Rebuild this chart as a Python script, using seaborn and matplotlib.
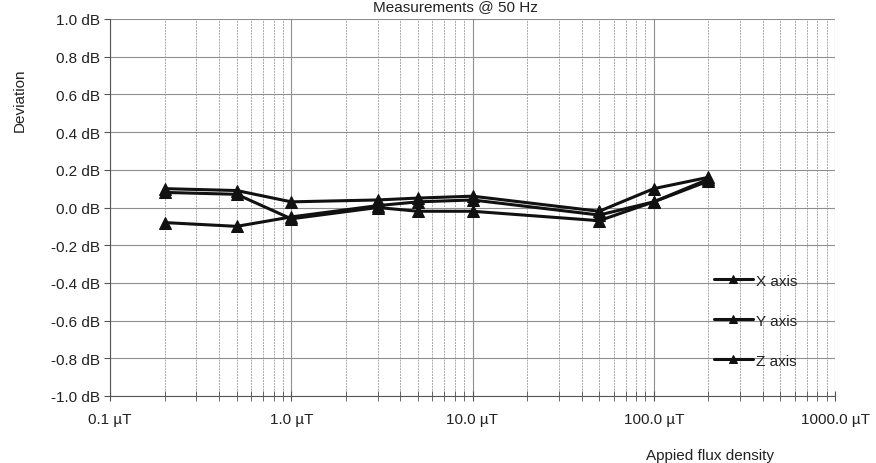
import pandas as pd
import seaborn as sns
import matplotlib.pyplot as plt
from matplotlib.ticker import FixedLocator, LogLocator, NullFormatter

# applied flux density (uT) and deviation (dB) per sensor axis
flux = [0.2, 0.5, 1.0, 3.0, 5.0, 10.0, 50.0, 100.0, 200.0]
x_axis = [-0.08, -0.10, -0.05, 0.01, 0.03, 0.04, -0.04, 0.03, 0.14]
y_axis = [0.10, 0.09, 0.03, 0.04, 0.05, 0.06, -0.02, 0.10, 0.16]
z_axis = [0.08, 0.07, -0.06, 0.00, -0.02, -0.02, -0.07, 0.03, 0.15]
series_names = ["X axis", "Y axis", "Z axis"]

x_ticks = [0.1, 1, 10, 100, 1000]
x_labels = ["0.1 µT", "1.0 µT", "10.0 µT", "100.0 µT", "1000.0 µT"]
y_ticks = [-1.0, -0.8, -0.6, -0.4, -0.2, 0.0, 0.2, 0.4, 0.6, 0.8, 1.0]
y_labels = [f"{v:.1f} dB" for v in y_ticks]

df = pd.DataFrame({
    "flux": flux * 3,
    "dev": x_axis + y_axis + z_axis,
    "series": [n for n in series_names for _ in flux],
})

sns.set_style("white")
plt.rcParams["font.family"] = ["Liberation Sans", "DejaVu Sans"]
plt.rcParams["axes.unicode_minus"] = False
fs = 11

fig = plt.figure(figsize=(8.76, 4.64), dpi=100)
ax = fig.add_axes([110 / 876, 1 - 397 / 464, 725 / 876, 377 / 464])

sns.lineplot(data=df, x="flux", y="dev", hue="series", style="series",
             palette=["#111111"] * 3, markers=["^"] * 3, dashes=False,
             markersize=8, linewidth=2.2, markeredgecolor="#111111", ax=ax)

ax.set_xscale("log")
ax.set_xlim(0.1, 1000)
ax.set_ylim(-1.0, 1.0)
ax.xaxis.set_major_locator(FixedLocator(x_ticks))
ax.set_xticklabels(x_labels)
ax.xaxis.set_minor_locator(LogLocator(base=10, subs=range(2, 10), numticks=20))
ax.xaxis.set_minor_formatter(NullFormatter())
ax.set_yticks(y_ticks)
ax.set_yticklabels(y_labels)

ax.grid(True, which="major", color="#8f8f8f", linewidth=0.8)
ax.grid(True, which="minor", axis="x", color="#a8a8a8", linewidth=0.7, linestyle=(0, (2, 1)))
ax.set_axisbelow(True)

for side in ["top", "right"]:
    ax.spines[side].set_visible(False)
ax.spines["left"].set_color("#555555")
ax.spines["bottom"].set_color("#555555")
ax.tick_params(axis="y", which="major", direction="out", length=4, color="#555555",
               labelsize=fs, left=True, pad=3, labelcolor="#222222")
ax.tick_params(axis="x", which="both", direction="inout", length=7, color="#555555",
               labelsize=fs, bottom=True, pad=8, labelcolor="#222222")

ax.set_xlabel("")
ax.set_ylabel("")
fig.text(20 / 876, 1 - 100 / 464, "Deviation", rotation=90, ha="center", va="center",
         fontsize=fs, color="#222222")
fig.text(710 / 876, 1 - 456 / 464, "Appied flux density", ha="center", va="center",
         fontsize=fs, color="#222222")
fig.text(455 / 876, 1.0, "Measurements @ 50 Hz", ha="center", va="top",
         fontsize=fs, color="#222222")

leg = ax.legend(loc="upper left", bbox_to_anchor=(0.822, 0.345), frameon=False,
                labelspacing=1.7, handlelength=2.6, handletextpad=0.15, fontsize=fs,
                borderpad=0, labelcolor="#222222", markerscale=0.8)

plt.savefig("out.png", dpi=100)
plt.close()
